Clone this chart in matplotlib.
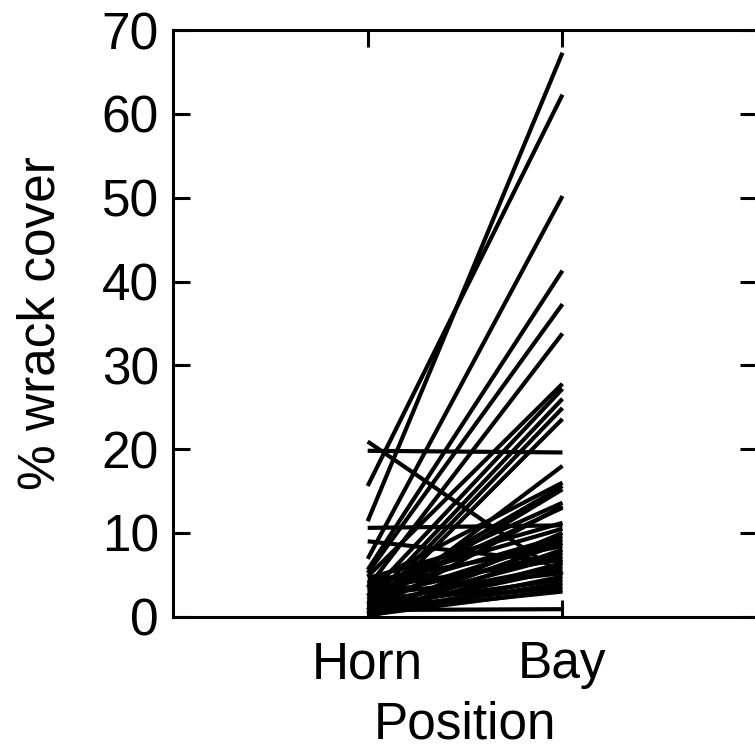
"""Paired Horn/Bay wrack cover: one line per site."""
import matplotlib
matplotlib.use("Agg")
import matplotlib.pyplot as plt

plt.rcParams["font.family"] = ["Liberation Sans", "DejaVu Sans"]

positions = ["Horn", "Bay"]

# % wrack cover at the horn and in the bay, one entry per site
horn = [11.4, 15.6, 6.9, 5.6, 5.2, 3.5, 4.8, 2.5, 1.5, 0.8, 0.3,
        19.8, 0.5, 4.0, 2.0, 1.2, 3.2, 0.6, 2.2, 10.6, 20.9, 9.0,
        4.6, 3.8, 0.2, 2.9, 1.8, 0.5, 4.2, 0.0, 2.4, 1.1, 3.4,
        0.3, 1.6, 0.7, 2.6, 0.1, 1.3, 0.4, 0.9, 0.2, 0.6, 0.8]
bay = [67.3, 62.3, 50.2, 41.3, 37.3, 33.8, 27.8, 27.2, 26.0, 24.9, 23.6,
       19.6, 18.0, 16.0, 15.6, 15.2, 13.6, 13.2, 13.0, 10.9, 5.0, 6.5,
       11.2, 10.5, 10.0, 9.6, 9.2, 8.8, 8.4, 8.0, 7.6, 7.2, 6.8,
       6.4, 6.0, 5.6, 5.2, 4.8, 4.4, 4.0, 3.6, 3.2, 3.0, 0.9]

fig = plt.figure(figsize=(7.55, 7.53), dpi=100)
ax = fig.add_axes([0.229, 0.181, 0.774, 0.779])

for h, b in zip(horn, bay):
    ax.plot([1, 2], [h, b], color="black", lw=3.0, solid_capstyle="butt")

ax.set_xlim(0, 3)
ax.set_ylim(0, 70)
ax.set_xticks([1, 2])
ax.set_xticklabels(positions)
ax.set_yticks(range(0, 71, 10))
ax.tick_params(direction="in", length=12, width=2.2, labelsize=37,
               top=True, right=True)
ax.tick_params(axis="y", pad=10)
ax.tick_params(axis="x", pad=17)
for s in ax.spines.values():
    s.set_linewidth(2.2)
ax.set_xlabel("Position", fontsize=37, labelpad=8)
ax.set_ylabel("% wrack cover", fontsize=37, labelpad=26)

fig.savefig("out.png", dpi=100)
